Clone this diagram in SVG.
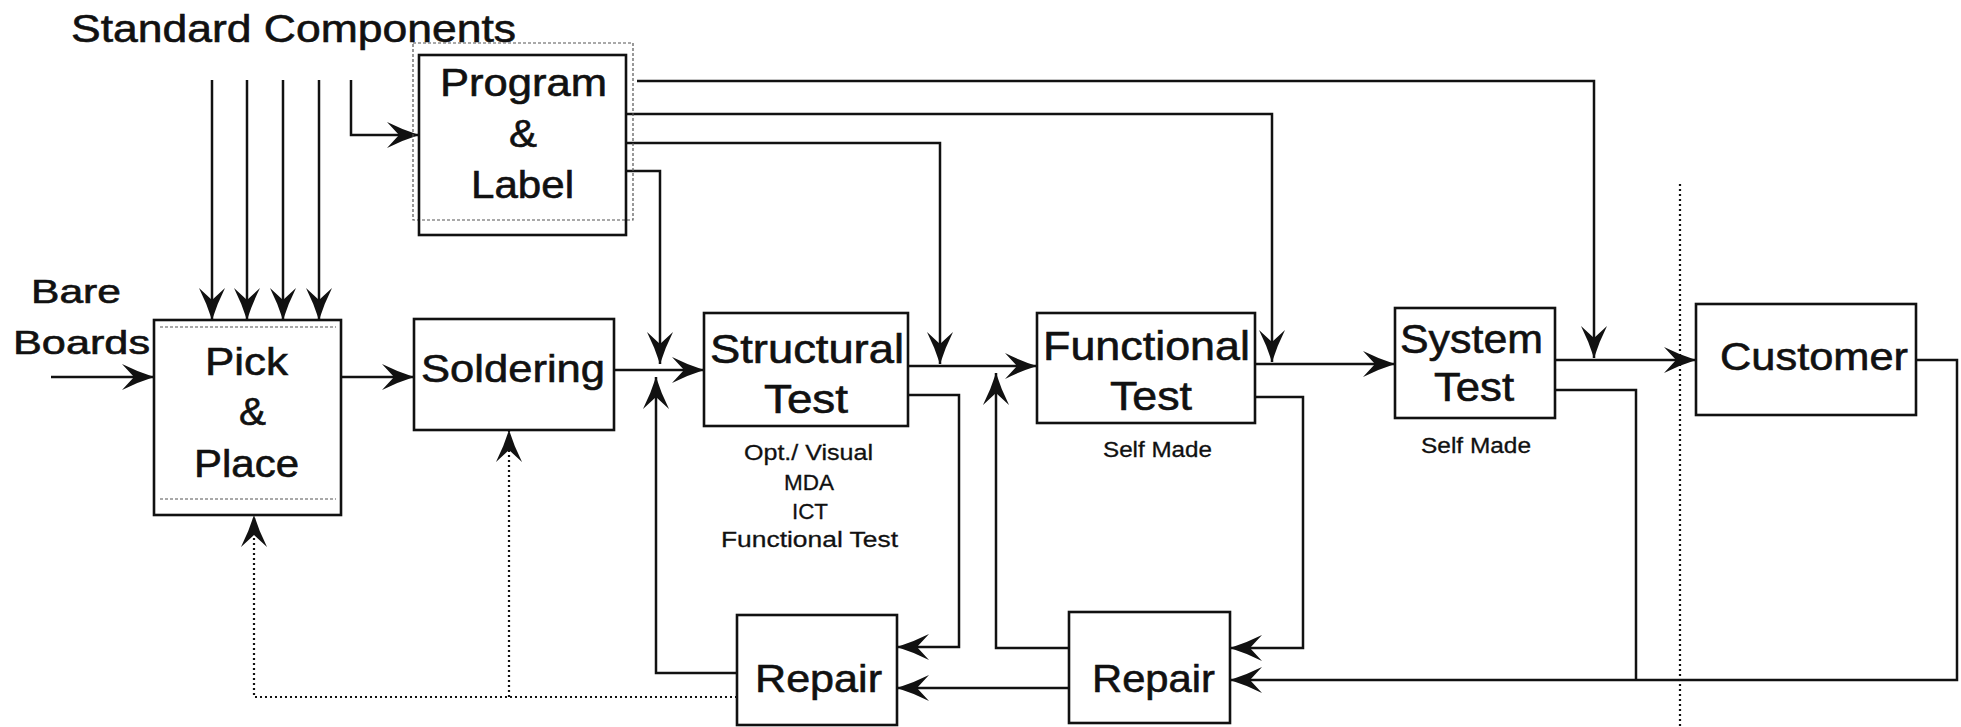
<svg xmlns="http://www.w3.org/2000/svg" width="1961" height="727" viewBox="0 0 1961 727">
<style>
.box{fill:#fff;stroke:#111;stroke-width:2.6}
.ghost{fill:none;stroke:#555;stroke-width:1.2;stroke-dasharray:3 2}
.t{font-family:"Liberation Sans",Arial,sans-serif;fill:#111;stroke:#111;stroke-width:0.6}
.big{font-size:39px}
.sm{font-size:22px;stroke-width:0.3}
.c{fill:none;stroke:#111;stroke-width:2.5}
.d{fill:none;stroke:#111;stroke-width:2.2;stroke-dasharray:2 3}
</style>
<defs>
<marker id="ah" markerUnits="userSpaceOnUse" viewBox="-34 -14 36 28" refX="0" refY="0" markerWidth="36" markerHeight="28" orient="auto">
<path d="M0,0 Q-16,-5 -32,-13 L-20,0 L-32,13 Q-16,5 0,0 Z" fill="#111"/>
</marker>
</defs>
<rect width="1961" height="727" fill="#fff"/>

<g id="labels">
<text class="t" x="71" y="42" font-size="39" textLength="445" lengthAdjust="spacingAndGlyphs">Standard Components</text>
<text class="t" x="31" y="303" font-size="33" textLength="90" lengthAdjust="spacingAndGlyphs">Bare</text>
<text class="t" x="13" y="354" font-size="33" textLength="137" lengthAdjust="spacingAndGlyphs">Boards</text>
</g>

<g id="connectors">
<path class="c" d="M212,80 V320" marker-end="url(#ah)"/>
<path class="c" d="M247,80 V320" marker-end="url(#ah)"/>
<path class="c" d="M283,80 V320" marker-end="url(#ah)"/>
<path class="c" d="M319,80 V320" marker-end="url(#ah)"/>
<path class="c" d="M351,80 V135 H419" marker-end="url(#ah)"/>
<path class="c" d="M51,377 H154" marker-end="url(#ah)"/>
<path class="c" d="M341,377 H414" marker-end="url(#ah)"/>
<path class="c" d="M614,370 H704" marker-end="url(#ah)"/>
<path class="c" d="M626,171 H660 V364" marker-end="url(#ah)"/>
<path class="c" d="M626,143 H940 V364" marker-end="url(#ah)"/>
<path class="c" d="M626,114 H1272 V362" marker-end="url(#ah)"/>
<path class="c" d="M637,81 H1594 V358" marker-end="url(#ah)"/>
<path class="c" d="M908,366 H1037" marker-end="url(#ah)"/>
<path class="c" d="M1255,364 H1395" marker-end="url(#ah)"/>
<path class="c" d="M1555,360 H1696" marker-end="url(#ah)"/>
<path class="c" d="M908,395 H959 V647 H897" marker-end="url(#ah)"/>
<path class="c" d="M737,673 H656 V377" marker-end="url(#ah)"/>
<path class="c" d="M1255,397 H1303 V648 H1230" marker-end="url(#ah)"/>
<path class="c" d="M1069,648 H996 V373" marker-end="url(#ah)"/>
<path class="c" d="M1069,688 H897" marker-end="url(#ah)"/>
<path class="c" d="M1555,390 H1636 V680"/>
<path class="c" d="M1916,360 H1957 V680 H1230" marker-end="url(#ah)"/>
<path class="d" d="M737,697 H254 V515" marker-end="url(#ah)"/>
<path class="d" d="M509,697 V430" marker-end="url(#ah)"/>
<path class="d" d="M1680,184 V727"/>
</g>

<g id="program-label">
<rect class="ghost" x="413" y="43" width="220" height="177"/>
<rect x="419" y="55" width="207" height="180" style="fill:none;stroke:#111;stroke-width:2.6"/>
<text class="t big" x="440" y="96" textLength="167" lengthAdjust="spacingAndGlyphs">Program</text>
<text class="t big" x="509" y="147" textLength="28" lengthAdjust="spacingAndGlyphs">&amp;</text>
<text class="t big" x="471" y="198" textLength="103" lengthAdjust="spacingAndGlyphs">Label</text>
</g>

<g id="pick-place">
<rect class="box" x="154" y="320" width="187" height="195"/>
<path class="ghost" d="M160,327 H336 M160,499 H336"/>
<text class="t" font-size="38" x="205" y="375" textLength="83" lengthAdjust="spacingAndGlyphs">Pick</text>
<text class="t" font-size="38" x="239" y="425" textLength="27" lengthAdjust="spacingAndGlyphs">&amp;</text>
<text class="t" font-size="38" x="194" y="477" textLength="105" lengthAdjust="spacingAndGlyphs">Place</text>
</g>

<g id="soldering">
<rect class="box" x="414" y="319" width="200" height="111"/>
<text class="t" font-size="38" x="421" y="382" textLength="184" lengthAdjust="spacingAndGlyphs">Soldering</text>
</g>

<g id="structural-test">
<rect class="box" x="704" y="313" width="204" height="113"/>
<text class="t" font-size="40" x="710" y="363" textLength="194" lengthAdjust="spacingAndGlyphs">Structural</text>
<text class="t" font-size="40" x="764" y="413" textLength="84" lengthAdjust="spacingAndGlyphs">Test</text>
<text class="t sm" x="744" y="460" textLength="129" lengthAdjust="spacingAndGlyphs">Opt./ Visual</text>
<text class="t sm" x="784" y="490" textLength="50" lengthAdjust="spacingAndGlyphs">MDA</text>
<text class="t sm" x="792" y="519" textLength="36" lengthAdjust="spacingAndGlyphs">ICT</text>
<text class="t sm" x="721" y="547" textLength="177" lengthAdjust="spacingAndGlyphs">Functional Test</text>
</g>

<g id="functional-test">
<rect class="box" x="1037" y="313" width="218" height="110"/>
<text class="t" font-size="40" x="1043" y="360" textLength="207" lengthAdjust="spacingAndGlyphs">Functional</text>
<text class="t" font-size="40" x="1110" y="410" textLength="82" lengthAdjust="spacingAndGlyphs">Test</text>
<text class="t sm" x="1103" y="457" textLength="109" lengthAdjust="spacingAndGlyphs">Self Made</text>
</g>

<g id="system-test">
<rect class="box" x="1395" y="308" width="160" height="110"/>
<text class="t" font-size="40" x="1400" y="353" textLength="143" lengthAdjust="spacingAndGlyphs">System</text>
<text class="t" font-size="40" x="1434" y="401" textLength="80" lengthAdjust="spacingAndGlyphs">Test</text>
<text class="t sm" x="1421" y="453" textLength="110" lengthAdjust="spacingAndGlyphs">Self Made</text>
</g>

<g id="customer">
<rect class="box" x="1696" y="304" width="220" height="111"/>
<text class="t" font-size="39" x="1720" y="370" textLength="188" lengthAdjust="spacingAndGlyphs">Customer</text>
</g>

<g id="repair-1">
<rect class="box" x="737" y="615" width="160" height="110"/>
<text class="t" font-size="39" x="755" y="692" textLength="127" lengthAdjust="spacingAndGlyphs">Repair</text>
</g>

<g id="repair-2">
<rect class="box" x="1069" y="612" width="161" height="111"/>
<text class="t" font-size="39" x="1092" y="692" textLength="123" lengthAdjust="spacingAndGlyphs">Repair</text>
</g>
</svg>
